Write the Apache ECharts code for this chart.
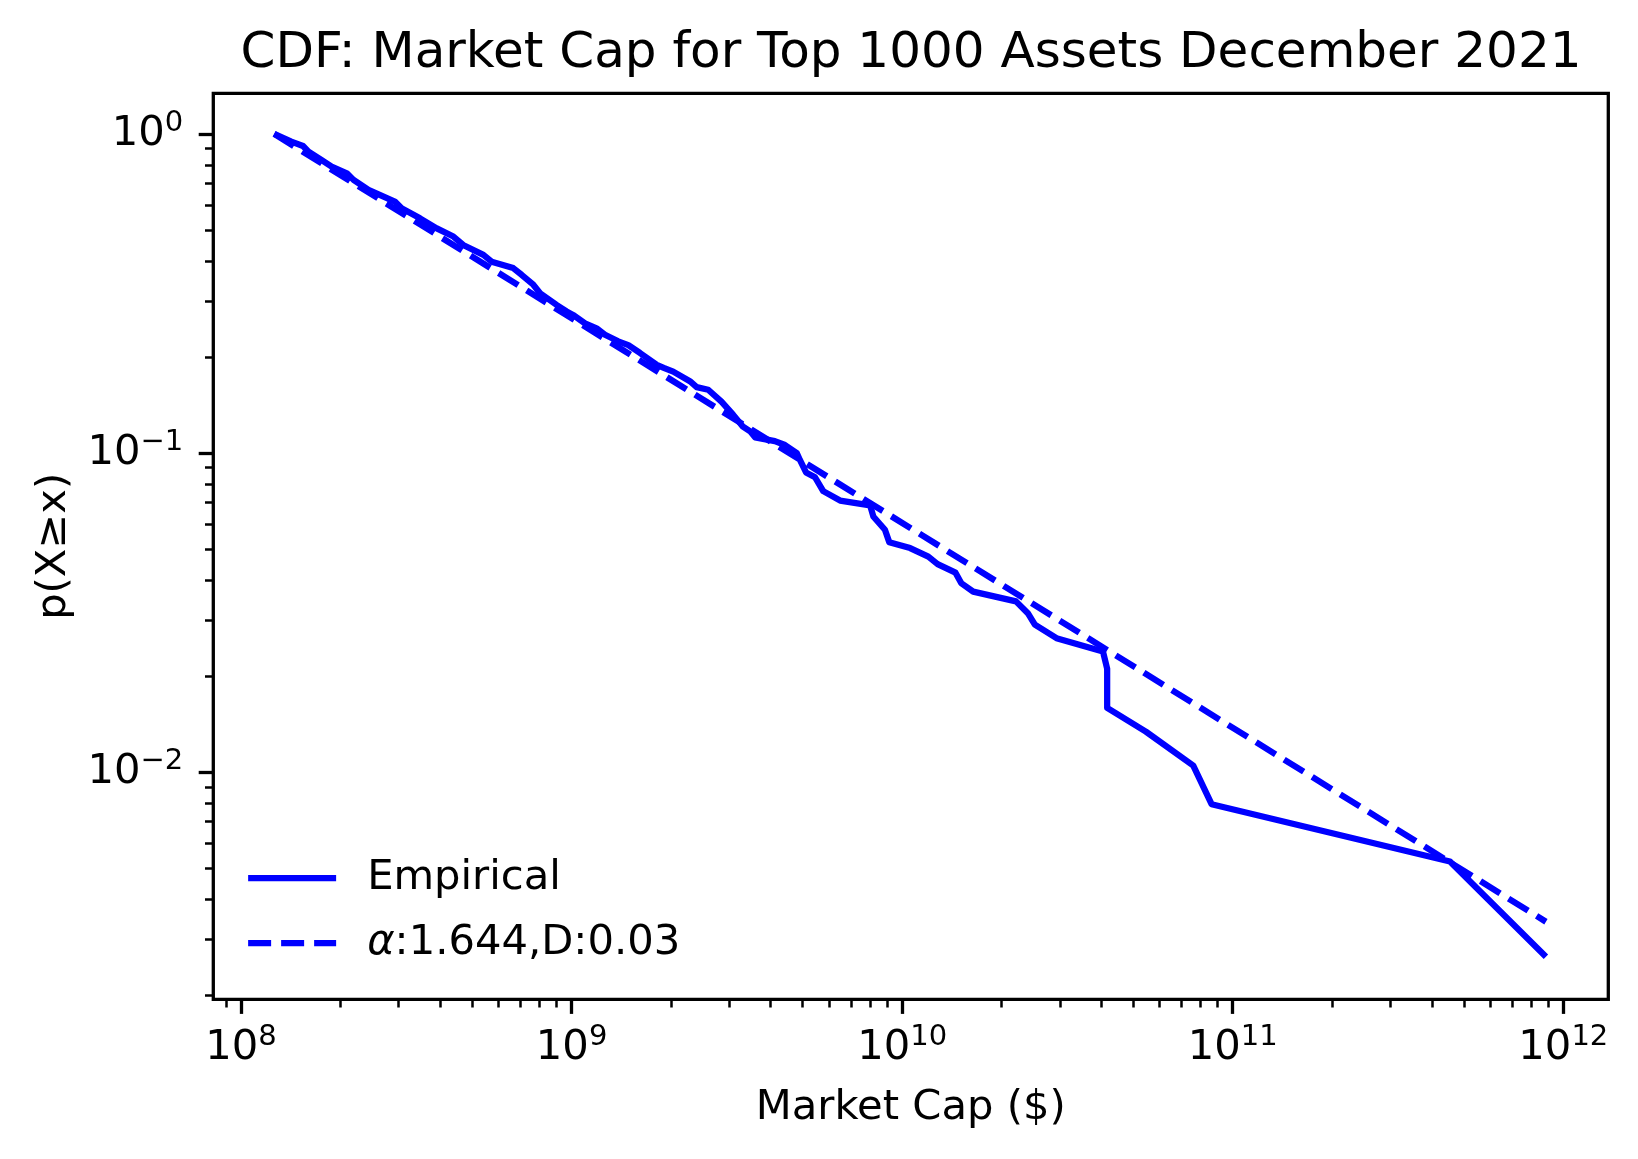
<!DOCTYPE html>
<html>
<head>
<meta charset="utf-8">
<script src="https://cdn.jsdelivr.net/npm/echarts@6/dist/echarts.min.js"></script>
<style>
html,body{margin:0;padding:0;background:#fff;}
#chart{width:1638px;height:1159px;}
</style>
</head>
<body>
<div id="chart"></div>
<script>
// ---- Data ----
const empiricalX = [1.26e8,1.42e8,1.54e8,1.60e8,1.75e8,1.88e8,2.09e8,2.19e8,2.43e8,2.70e8,2.92e8,3.06e8,3.48e8,3.91e8,4.39e8,4.70e8,5.41e8,5.73e8,6.66e8,7.06e8,7.66e8,8.03e8,9.02e8,9.66e8,1.01e9,1.098e9,1.19e9,1.262e9,1.384e9,1.485e9,1.61e9,1.81e9,1.90e9,2.03e9,2.28e9,2.39e9,2.59e9,2.84e9,3.08e9,3.30e9,3.47e9,3.59e9,4.12e9,4.42e9,4.80e9,4.91e9,5.12e9,5.45e9,5.77e9,6.49e9,8.0e9,8.18e9,8.87e9,9.14e9,1.057e10,1.20e10,1.28e10,1.45e10,1.51e10,1.64e10,2.21e10,2.40e10,2.52e10,2.93e10,4.05e10,4.17e10,4.17e10,5.46e10,7.59e10,8.63e10,4.54e11,8.86e11];
const empiricalY = [1.0,0.946,0.917,0.880,0.829,0.790,0.753,0.718,0.668,0.636,0.614,0.585,0.544,0.506,0.477,0.449,0.418,0.398,0.380,0.362,0.337,0.317,0.291,0.278,0.271,0.255,0.246,0.235,0.224,0.218,0.206,0.189,0.185,0.180,0.168,0.161,0.158,0.145,0.132,0.121,0.117,0.112,0.109,0.106,0.100,0.095,0.087,0.084,0.076,0.071,0.0686,0.0633,0.0575,0.0526,0.0504,0.0474,0.0449,0.0422,0.0391,0.0368,0.0343,0.0315,0.0290,0.0263,0.0239,0.0211,0.0159,0.0134,0.0105,0.00794,0.00525,0.00264];
const fitX = [1.26e8, 8.86e11];
const fitY = [1.0, 0.0034];
const empiricalName = 'Empirical';
const fitName = 'α:1.644,D:0.03';
const xMajorTicks = [1e8, 1e9, 1e10, 1e11, 1e12];
const yMajorTicks = [1e-2, 1e-1, 1e0];
const xDecades = [7, 8, 9, 10, 11];
const yDecades = [-3, -2, -1];
const xRange = [8.245e7, 1.368e12];
const yRange = [0.001943, 1.341];

// ---- Build ----
function minors(decades, lo, hi) {
  const out = [];
  decades.forEach(d => { for (let k = 2; k <= 9; k++) { const v = k * Math.pow(10, d); if (v > lo && v < hi) out.push(v); } });
  return out;
}
const xMinorTicks = minors(xDecades, xRange[0], xRange[1]);
const yMinorTicks = minors(yDecades, yRange[0], yRange[1]);

const FONT = 'DejaVu Sans';
function powLabel(v) {
  const e = Math.round(Math.log10(v));
  const es = e < 0 ? '\u2212' + (-e) : String(e);
  return '{b|10}{s|' + es + '}';
}
const labelRich = {
  b: { fontFamily: FONT, fontSize: 41.7, lineHeight: 50, color: '#000' },
  s: { fontFamily: FONT, fontSize: 29, lineHeight: 29, verticalAlign: 'top', color: '#000' }
};

const chart = echarts.init(document.getElementById('chart'), null, { renderer: 'canvas' });
const option = {
  backgroundColor: '#fff',
  animation: false,
  title: {
    text: 'CDF: Market Cap for Top 1000 Assets December 2021',
    left: 906, top: 24, textAlign: 'center',
    textStyle: { fontFamily: FONT, fontSize: 50, fontWeight: 'normal', color: '#000' }
  },
  grid: {
    left: 213.3, top: 93.3, right: 29.7, bottom: 159.7,
    show: true, borderColor: '#000', borderWidth: 3.3, backgroundColor: 'transparent',
    containLabel: false, outerBoundsMode: 'none'
  },
  legend: {
    orient: 'vertical', left: 245, top: 853, padding: 0,
    itemWidth: 88, itemHeight: 20, itemGap: 15,
    data: [empiricalName, fitName],
    lineStyle: { width: 6.25 },
    itemStyle: { color: 'rgba(0,0,0,0)', borderColor: 'rgba(0,0,0,0)', borderWidth: 0 },
    formatter: function (name) {
      if (name.charAt(0) === 'α') return '{i|α}{t|' + name.slice(1) + '}';
      return '{p|' + name + '}';
    },
    textStyle: {
      fontFamily: FONT, fontSize: 41.7, lineHeight: 50, color: '#000',
      rich: {
        p: { fontFamily: FONT, fontSize: 41.7, lineHeight: 50, color: '#000', padding: [0, 0, 0, 26] },
        i: { fontFamily: FONT, fontSize: 41.7, lineHeight: 50, color: '#000', fontStyle: 'italic', padding: [0, 0, 0, 26] },
        t: { fontFamily: FONT, fontSize: 41.7, lineHeight: 50, color: '#000' }
      }
    }
  },
  xAxis: [{
    type: 'log', logBase: 10, gridIndex: 0, position: 'bottom',
    min: xRange[0], max: xRange[1],
    axisLine: { show: false }, splitLine: { show: false }, minorTick: { show: false },
    axisTick: { show: true, inside: false, length: 14.6, customValues: xMajorTicks, lineStyle: { color: '#000', width: 3.3 } },
    axisLabel: { show: true, customValues: xMajorTicks, margin: 24, formatter: powLabel, rich: labelRich, color: '#000' },
    name: 'Market Cap ($)', nameLocation: 'middle', nameGap: 88,
    nameTextStyle: { fontFamily: FONT, fontSize: 41.7, color: '#000' }
  }, {
    type: 'log', logBase: 10, gridIndex: 0, position: 'bottom',
    min: xRange[0], max: xRange[1],
    axisLine: { show: false }, splitLine: { show: false }, minorTick: { show: false },
    axisTick: { show: true, inside: false, length: 8.3, customValues: xMinorTicks, lineStyle: { color: '#000', width: 2.5 } },
    axisLabel: { show: false }
  }],
  yAxis: [{
    type: 'log', logBase: 10, gridIndex: 0, position: 'left',
    min: yRange[0], max: yRange[1],
    axisLine: { show: false }, splitLine: { show: false }, minorTick: { show: false },
    axisTick: { show: true, inside: false, length: 14.6, customValues: yMajorTicks, lineStyle: { color: '#000', width: 3.3 } },
    axisLabel: { show: true, customValues: yMajorTicks, margin: 30, formatter: powLabel, rich: labelRich, color: '#000' },
    name: 'p(X\u2265x)', nameLocation: 'middle', nameGap: 138, nameRotate: 90,
    nameTextStyle: { fontFamily: FONT, fontSize: 41.7, color: '#000' }
  }, {
    type: 'log', logBase: 10, gridIndex: 0, position: 'left',
    min: yRange[0], max: yRange[1],
    axisLine: { show: false }, splitLine: { show: false }, minorTick: { show: false },
    axisTick: { show: true, inside: false, length: 8.3, customValues: yMinorTicks, lineStyle: { color: '#000', width: 2.5 } },
    axisLabel: { show: false }
  }],
  series: [{
    name: empiricalName, type: 'line', xAxisIndex: 0, yAxisIndex: 0,
    data: empiricalX.map((x, i) => [x, empiricalY[i]]),
    showSymbol: false, symbol: 'none', smooth: false,
    lineStyle: { color: '#0000ff', width: 6.25, join: 'round', cap: 'butt' },
    itemStyle: { color: '#0000ff' }
  }, {
    name: fitName, type: 'line', xAxisIndex: 0, yAxisIndex: 0,
    data: fitX.map((x, i) => [x, fitY[i]]),
    showSymbol: false, symbol: 'none', smooth: false,
    lineStyle: { color: '#0000ff', width: 6.25, type: [23, 10], cap: 'butt' },
    itemStyle: { color: '#0000ff' }
  }]
};
chart.setOption(option);
</script>
</body>
</html>
